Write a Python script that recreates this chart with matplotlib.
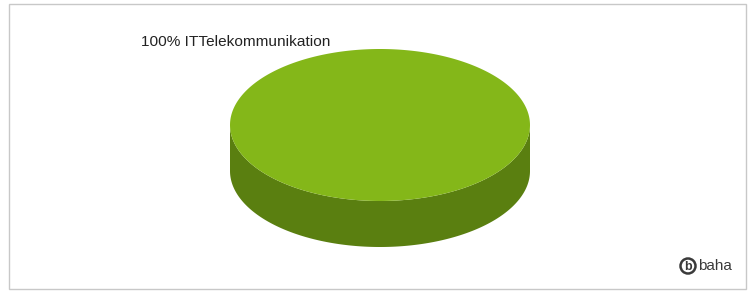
import numpy as np
import matplotlib.pyplot as plt
from matplotlib.patches import Polygon, Rectangle, Circle

# Daten
KATEGORIEN = ["ITTelekommunikation"]
WERTE = [100]
FARBEN_OBEN = ["#84b719"]
FARBEN_SEITE = ["#5a7f10"]

# Geometrie (Pixel)
CX, CY = 380, 125
RX, RY = 150, 76
TIEFE = 46

fig = plt.figure(figsize=(7.54, 2.91), dpi=100)
ax = fig.add_axes([0, 0, 1, 1])
ax.set_xlim(0, 754)
ax.set_ylim(291, 0)
ax.axis("off")

# Rahmen
ax.add_patch(Rectangle((8.5, 3.5), 737, 285, fill=False, edgecolor="#c8c8c8", lw=1))

gesamt = sum(WERTE)
start = 90.0
for wert, oben, seite in zip(WERTE, FARBEN_OBEN, FARBEN_SEITE):
    span = 360.0 * wert / gesamt
    t = np.radians(np.linspace(start, start + span, 400))
    xs = CX + RX * np.cos(t)
    ys = CY - RY * np.sin(t)

    # Seitenflaeche: nur vordere Haelfte sichtbar
    vorne = np.radians(np.linspace(180, 360, 200))
    vx = CX + RX * np.cos(vorne)
    vy = CY - RY * np.sin(vorne)
    seite_pts = np.concatenate([np.column_stack([vx, vy]),
                                np.column_stack([vx[::-1], vy[::-1] + TIEFE])])
    ax.add_patch(Polygon(seite_pts, closed=True, facecolor=seite, edgecolor="none"))

    # Oberflaeche
    if span >= 360:
        pts = np.column_stack([xs, ys])
    else:
        pts = np.vstack([[CX, CY], np.column_stack([xs, ys])])
    ax.add_patch(Polygon(pts, closed=True, facecolor=oben, edgecolor="none"))

    ax.text(141, 42, f"{wert}% {KATEGORIEN[0]}", fontsize=11.1,
            family="Liberation Sans", color="#222222", va="center", ha="left")
    start += span

# Logo
ax.add_patch(Circle((688, 266), 7.5, fill=False, edgecolor="#3a3a3a", lw=1.8))
ax.text(688, 266.5, "b", fontsize=9, fontweight="bold", family="Liberation Sans",
        color="#3a3a3a", ha="center", va="center")
ax.text(698, 266, "baha", fontsize=11, family="Liberation Sans",
        color="#3a3a3a", ha="left", va="center")

fig.savefig("out.png", dpi=100)
